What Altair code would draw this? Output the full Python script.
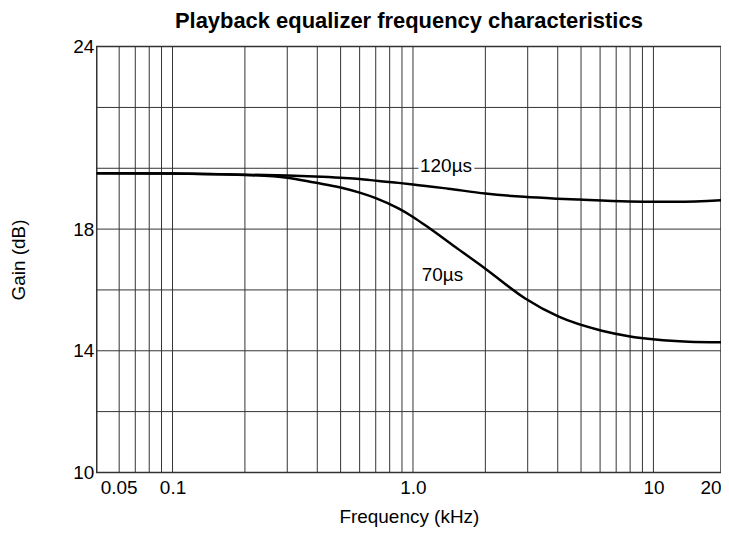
import altair as alt
import pandas as pd

# ---- data ----
freq_120 = [0.0484, 0.1, 0.2, 0.3, 0.39, 0.5, 0.6, 0.72, 0.87, 1.0, 1.4, 2.0, 2.9, 4.0, 4.9, 7.9, 10.2, 12.5, 19.1]
gain_120 = [19.84, 19.83, 19.79, 19.76, 19.73, 19.69, 19.65, 19.58, 19.52, 19.47, 19.33, 19.17, 19.06, 19.0, 18.97, 18.91, 18.9, 18.9, 18.95]

freq_70 = [0.0484, 0.1, 0.2, 0.3, 0.39, 0.5, 0.6, 0.7, 0.87, 1.0, 1.16, 1.5, 2.0, 2.93, 4.04, 6.1, 7.9, 10.2, 14.0, 19.1]
gain_70 = [19.84, 19.83, 19.78, 19.69, 19.53, 19.37, 19.2, 19.02, 18.68, 18.40, 18.05, 17.41, 16.7, 15.72, 15.12, 14.66, 14.48, 14.37, 14.3, 14.28]

x_grid = [0.06, 0.07, 0.08, 0.09, 0.1, 0.2, 0.3, 0.4, 0.5, 0.6, 0.7, 0.8, 0.9,
          1, 2, 3, 4, 5, 6, 7, 8, 9, 10]
y_grid = [12, 14, 16, 18, 20, 22]

x_domain = [0.0484, 19.1]
y_domain = [10, 24]
x_tick_values = [0.05, 0.1, 1.0, 10, 19.1]
x_tick_labels = ["0.05", "0.1", "1.0", "10", "20"]
y_tick_values = [10, 14, 18, 24]

curve_labels = ["120µs", "70µs"]
label_freq = [1.07, 1.087]
label_gain = [20.06, 16.49]

FONT = "Liberation Sans"

# ---- tables ----
df_lines = pd.concat([
    pd.DataFrame({"f": freq_120, "g": gain_120, "s": "120"}),
    pd.DataFrame({"f": freq_70, "g": gain_70, "s": "70"}),
])
df_xg = pd.DataFrame({"f": x_grid})
df_yg = pd.DataFrame({"g": y_grid})
df_lab = pd.DataFrame({"f": label_freq, "g": label_gain, "t": curve_labels})


def label_expr(values, labels):
    expr = "''"
    for v, l in reversed(list(zip(values, labels))):
        expr = f"abs(datum.value - {v}) < {v * 1e-3} ? '{l}' : {expr}"
    return expr


xs = alt.Scale(type="log", domain=x_domain, nice=False)
ys = alt.Scale(domain=y_domain, nice=False, zero=False)

x_axis = alt.Axis(
    values=x_tick_values, labelExpr=label_expr(x_tick_values, x_tick_labels),
    grid=False, ticks=False, domain=False, labelFlush=6, labelPadding=6,
    labelFont=FONT, labelFontSize=19, labelColor="#000",
    titleFont=FONT, titleFontSize=19, titleFontWeight="normal", titleColor="#000",
    titlePadding=10,
)
y_axis = alt.Axis(
    values=y_tick_values, grid=False, ticks=False, domain=False, labelPadding=3,
    labelFont=FONT, labelFontSize=19, labelColor="#000",
    titleFont=FONT, titleFontSize=19, titleFontWeight="normal", titleColor="#000",
    titleX=-78, titleBaseline="middle", titleAngle=-90,
)

X = alt.X("f:Q", scale=xs, axis=x_axis, title="Frequency (kHz)")
Y = alt.Y("g:Q", scale=ys, axis=y_axis, title="Gain (dB)")

vgrid = alt.Chart(df_xg).mark_rule(color="#333", strokeWidth=1).encode(x=X)
hgrid = alt.Chart(df_yg).mark_rule(color="#333", strokeWidth=1).encode(y=Y)
lines = alt.Chart(df_lines).mark_line(color="#000", strokeWidth=2.5, interpolate="monotone").encode(
    x=X, y=Y, detail="s:N",
)
halo = alt.Chart(df_lab).mark_text(
    align="left", baseline="middle", font=FONT, fontSize=19,
    stroke="white", strokeWidth=6, color="white",
).encode(x=X, y=Y, text="t:N")
labels = alt.Chart(df_lab).mark_text(
    align="left", baseline="middle", font=FONT, fontSize=19, color="#000",
).encode(x=X, y=Y, text="t:N")

chart = alt.layer(vgrid, hgrid, halo, lines, labels).properties(
    width=626, height=427,
    autosize=alt.AutoSizeParams(type="none"),
    padding={"left": 89, "top": 38, "right": 0, "bottom": 54},
    title=alt.TitleParams(
        "Playback equalizer frequency characteristics",
        font=FONT, fontSize=22, fontWeight="bold", color="#000",
        anchor="middle", offset=5,
    ),
).configure(background="white").configure_view(stroke="#333", strokeWidth=1.5)

chart.save("out.html", embed_options={"renderer": "svg", "actions": False})
